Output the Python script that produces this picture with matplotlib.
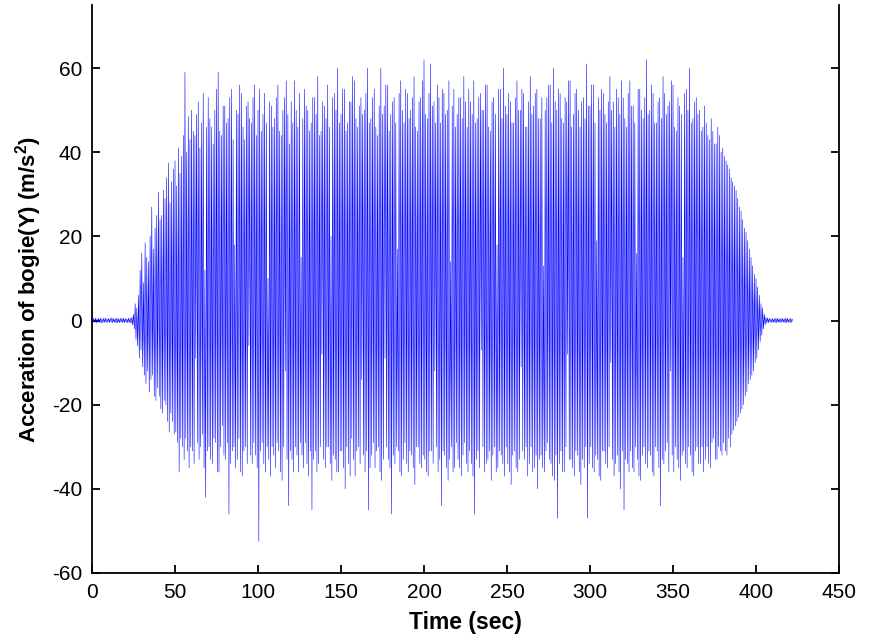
import numpy as np
import matplotlib
matplotlib.use("Agg")
import matplotlib.pyplot as plt

plt.rcParams['font.family'] = ['Liberation Sans', 'DejaVu Sans']
plt.rcParams['mathtext.fontset'] = 'custom'
plt.rcParams['mathtext.rm'] = 'Liberation Sans'
plt.rcParams['mathtext.bf'] = 'Liberation Sans:bold'
plt.rcParams['axes.unicode_minus'] = False

# Upward peaks of lateral bogie acceleration (m/s^2), at t = 0, 1, 2, ... 422 s
upper_peaks = [
    0.4, 0.5, 0.6, 0.4, 0.5, 0.6, 0.4, 0.5, 0.6, 0.4,
    0.5, 0.5, 0.7, 0.4, 0.5, 0.6, 0.4, 0.5, 0.6, 0.5,
    0.5, 0.4, 0.6, 0.5, 0.8, 1.5, 4.0, 3.0, 6.0, 12.0,
    16.0, 9.0, 18.5, 15.0, 14.0, 20.0, 27.0, 17.0, 22.0, 25.0,
    30.5, 24.0, 25.0, 31.0, 29.0, 34.0, 37.5, 28.0, 33.0, 36.0,
    38.0, 32.0, 41.0, 35.0, 39.0, 44.0, 59.0, 40.0, 48.5, 43.0,
    50.0, 45.0, 44.0, 49.0, 52.0, 41.0, 47.0, 54.0, 12.0, 46.0,
    53.0, 48.0, 46.0, 42.0, 50.0, 55.0, 59.0, 45.0, 44.0, 51.0,
    51.0, 47.0, 48.0, 53.0, 55.0, 43.0, 18.0, 50.0, 49.0, 56.0,
    54.0, 46.0, 43.0, 51.0, 52.0, 48.0, 47.0, 53.0, 56.0, 44.0,
    50.0, 55.0, 45.0, 49.0, 54.0, 47.0, 10.0, 52.0, 51.0, 46.0,
    48.0, 53.0, 56.0, 45.0, 44.0, 50.0, 53.0, 57.0, 49.0, 42.0,
    52.0, 47.0, 57.0, 50.0, 46.0, 54.0, 15.0, 48.0, 55.0, 51.0,
    50.0, 45.0, 47.0, 53.0, 53.0, 49.0, 58.0, 44.0, 45.0, 52.0,
    51.0, 48.0, 56.0, 46.0, 20.0, 53.0, 54.0, 50.0, 60.0, 47.0,
    49.0, 55.0, 55.0, 45.0, 47.0, 52.0, 52.0, 58.0, 57.0, 48.0,
    46.0, 51.0, 53.0, 49.0, 50.0, 54.0, 60.0, 47.0, 48.0, 53.0,
    55.0, 46.0, 44.0, 51.0, 60.0, 49.0, 51.0, 56.0, 56.0, 45.0,
    49.0, 52.0, 53.0, 47.0, 17.0, 54.0, 57.0, 50.0, 47.0, 55.0,
    54.0, 48.0, 50.0, 53.0, 58.0, 46.0, 45.0, 52.0, 53.0, 57.0,
    62.0, 49.0, 48.0, 54.0, 61.0, 51.0, 52.0, 47.0, 56.0, 53.0,
    47.0, 55.0, 54.0, 49.0, 50.0, 57.0, 14.0, 51.0, 55.0, 46.0,
    49.0, 53.0, 53.0, 48.0, 58.0, 52.0, 46.0, 55.0, 52.0, 49.0,
    57.0, 47.0, 48.0, 53.0, 54.0, 50.0, 50.0, 56.0, 56.0, 46.0,
    45.0, 52.0, 53.0, 49.0, 18.0, 55.0, 55.0, 48.0, 60.0, 51.0,
    49.0, 54.0, 52.0, 47.0, 47.0, 53.0, 57.0, 50.0, 50.0, 55.0,
    54.0, 46.0, 46.0, 52.0, 58.0, 49.0, 51.0, 54.0, 55.0, 48.0,
    48.0, 53.0, 13.0, 50.0, 53.0, 56.0, 56.0, 47.0, 60.0, 52.0,
    50.0, 55.0, 54.0, 48.0, 47.0, 53.0, 52.0, 57.0, 57.0, 46.0,
    49.0, 54.0, 55.0, 50.0, 46.0, 52.0, 53.0, 48.0, 61.0, 51.0,
    51.0, 56.0, 56.0, 47.0, 19.0, 53.0, 50.0, 55.0, 54.0, 49.0,
    47.0, 52.0, 58.0, 50.0, 52.0, 46.0, 55.0, 53.0, 49.0, 57.0,
    53.0, 48.0, 46.0, 54.0, 57.0, 51.0, 51.0, 47.0, 16.0, 55.0,
    55.0, 50.0, 48.0, 53.0, 62.0, 49.0, 50.0, 56.0, 54.0, 47.0,
    47.0, 52.0, 53.0, 48.0, 58.0, 54.0, 49.0, 51.0, 52.0, 57.0,
    56.0, 46.0, 45.0, 53.0, 51.0, 49.0, 15.0, 54.0, 55.0, 50.0,
    60.0, 47.0, 48.0, 52.0, 53.0, 49.0, 50.0, 45.0, 46.0, 51.0,
    47.0, 44.0, 43.0, 48.0, 45.0, 42.0, 42.0, 46.0, 44.0, 40.0,
    41.0, 39.0, 38.0, 37.0, 36.0, 34.0, 33.0, 32.0, 31.0, 29.0,
    27.0, 26.0, 24.0, 22.0, 21.0, 19.0, 17.0, 15.0, 13.0, 11.0,
    10.0, 8.0, 6.0, 4.0, 3.0, 1.5, 0.8, 0.6, 0.5, 0.4,
    0.5, 0.4, 0.6, 0.5, 0.4, 0.5, 0.5, 0.4, 0.6, 0.5,
    0.4, 0.5, 0.3,
]

# Downward peaks (m/s^2), at t = 0.5, 1.5, ... 421.5 s
lower_peaks = [
    -0.5, -0.4, -0.6, -0.4, -0.5, -0.6, -0.5, -0.4, -0.5, -0.4,
    -0.5, -0.4, -0.5, -0.4, -0.6, -0.5, -0.5, -0.4, -0.5, -0.5,
    -0.4, -0.5, -0.5, -0.6, -1.0, -2.0, -4.5, -6.0, -9.0, -7.0,
    -11.0, -13.0, -15.0, -12.0, -17.0, -14.0, -13.0, -18.0, -19.0, -16.0,
    -18.0, -21.0, -22.0, -19.0, -20.0, -24.0, -26.5, -22.0, -24.0, -27.0,
    -26.5, -29.0, -36.0, -28.0, -30.0, -33.0, -28.0, -31.0, -35.0, -30.0,
    -31.0, -34.0, -9.0, -29.0, -33.0, -30.0, -27.0, -35.0, -42.0, -31.0,
    -30.0, -33.0, -34.0, -28.0, -29.0, -36.0, -36.0, -30.0, -25.0, -32.0,
    -33.0, -29.0, -46.0, -34.0, -31.0, -30.0, -35.0, -33.0, -28.0, -36.0,
    -37.0, -31.0, -30.0, -34.0, -6.0, -32.0, -34.0, -29.0, -32.0, -35.0,
    -52.5, -31.0, -29.0, -34.0, -36.0, -30.0, -33.0, -37.0, -30.0, -32.0,
    -35.0, -29.0, -31.0, -36.0, -38.0, -30.0, -12.0, -33.0, -44.0, -31.0,
    -33.0, -36.0, -30.0, -32.0, -36.0, -29.0, -32.0, -35.0, -29.0, -34.0,
    -37.0, -31.0, -45.0, -33.0, -31.0, -36.0, -34.0, -30.0, -8.0, -33.0,
    -35.0, -30.0, -30.0, -34.0, -38.0, -32.0, -33.0, -36.0, -36.0, -31.0,
    -31.0, -35.0, -40.0, -30.0, -34.0, -37.0, -28.0, -33.0, -37.0, -31.0,
    -30.0, -34.0, -14.0, -32.0, -36.0, -31.0, -45.0, -35.0, -32.0, -29.0,
    -35.0, -31.0, -30.0, -36.0, -38.0, -33.0, -9.0, -30.0, -33.0, -35.0,
    -46.0, -32.0, -34.0, -30.0, -31.0, -36.0, -37.0, -33.0, -29.0, -34.0,
    -36.0, -31.0, -32.0, -35.0, -39.0, -30.0, -30.0, -34.0, -35.0, -32.0,
    -33.0, -36.0, -37.0, -31.0, -31.0, -34.0, -12.0, -30.0, -36.0, -33.0,
    -44.0, -31.0, -32.0, -35.0, -38.0, -33.0, -30.0, -36.0, -35.0, -29.0,
    -33.0, -35.0, -37.0, -32.0, -29.0, -34.0, -36.0, -31.0, -34.0, -37.0,
    -46.0, -33.0, -31.0, -35.0, -7.0, -30.0, -36.0, -34.0, -33.0, -31.0,
    -38.0, -32.0, -30.0, -36.0, -35.0, -31.0, -32.0, -34.0, -37.0, -30.0,
    -34.0, -36.0, -39.0, -32.0, -31.0, -35.0, -36.0, -33.0, -11.0, -31.0,
    -33.0, -30.0, -37.0, -34.0, -30.0, -36.0, -35.0, -32.0, -40.0, -33.0,
    -32.0, -35.0, -36.0, -31.0, -29.0, -33.0, -34.0, -37.0, -38.0, -32.0,
    -47.0, -34.0, -31.0, -36.0, -36.0, -30.0, -8.0, -33.0, -33.0, -35.0,
    -37.0, -31.0, -32.0, -36.0, -39.0, -33.0, -35.0, -30.0, -47.0, -34.0,
    -30.0, -35.0, -36.0, -32.0, -33.0, -37.0, -38.0, -31.0, -31.0, -34.0,
    -35.0, -30.0, -10.0, -33.0, -37.0, -34.0, -32.0, -36.0, -40.0, -31.0,
    -45.0, -33.0, -34.0, -36.0, -31.0, -35.0, -36.0, -30.0, -33.0, -37.0,
    -38.0, -32.0, -30.0, -34.0, -35.0, -31.0, -32.0, -36.0, -37.0, -30.0,
    -31.0, -35.0, -44.0, -33.0, -34.0, -31.0, -29.0, -36.0, -12.0, -32.0,
    -36.0, -30.0, -33.0, -35.0, -38.0, -32.0, -31.0, -34.0, -35.0, -30.0,
    -32.0, -36.0, -37.0, -31.0, -30.0, -34.0, -34.0, -30.0, -36.0, -33.0,
    -30.0, -34.0, -35.0, -29.0, -28.0, -33.0, -33.0, -30.0, -31.0, -32.0,
    -29.0, -31.0, -32.0, -28.0, -30.0, -27.0, -26.0, -25.0, -24.0, -23.0,
    -22.0, -21.0, -20.0, -18.0, -17.0, -15.0, -14.0, -13.0, -12.0, -10.0,
    -9.0, -7.0, -5.0, -3.5, -2.0, -1.0, -0.6, -0.5, -0.4, -0.5,
    -0.4, -0.5, -0.5, -0.4, -0.5, -0.4, -0.4, -0.5, -0.5, -0.4,
    -0.5, -0.4,
]

x_ticks = [0, 50, 100, 150, 200, 250, 300, 350, 400, 450]
y_ticks = [-60, -40, -20, 0, 20, 40, 60]

# Sample times of the two peak series, merged into one time history
t_upper = np.arange(len(upper_peaks), dtype=float)
t_lower = np.arange(len(lower_peaks), dtype=float) + 0.5
time_sec = np.concatenate([t_upper, t_lower])
accel = np.concatenate([upper_peaks, lower_peaks])
order = np.argsort(time_sec, kind='stable')
time_sec = time_sec[order]
accel = accel[order]

fig = plt.figure(figsize=(8.71, 6.41), dpi=100)
ax = fig.add_axes([92 / 871, (641 - 573) / 641, (839 - 92) / 871, (573 - 5) / 641])

ax.plot(time_sec, accel, color=(0, 0, 1), linewidth=0.4)

ax.set_xlim(0, 450)
ax.set_ylim(-60, 75)
ax.set_xticks(x_ticks)
ax.set_yticks(y_ticks)

ax.spines['top'].set_visible(False)
for s in ['left', 'right', 'bottom']:
    ax.spines[s].set_linewidth(1.3)
ax.tick_params(direction='in', length=6, width=1.3, right=True, top=False,
               labelsize=15, pad=7)

ax.set_xlabel('Time (sec)', fontsize=16.5, fontweight='bold', labelpad=7)
ax.set_ylabel('Acceration of bogie(Y) (m/s$^\\mathbf{2}$)', fontsize=16,
              fontweight='bold', labelpad=6)

fig.savefig('out.png', dpi=100)
